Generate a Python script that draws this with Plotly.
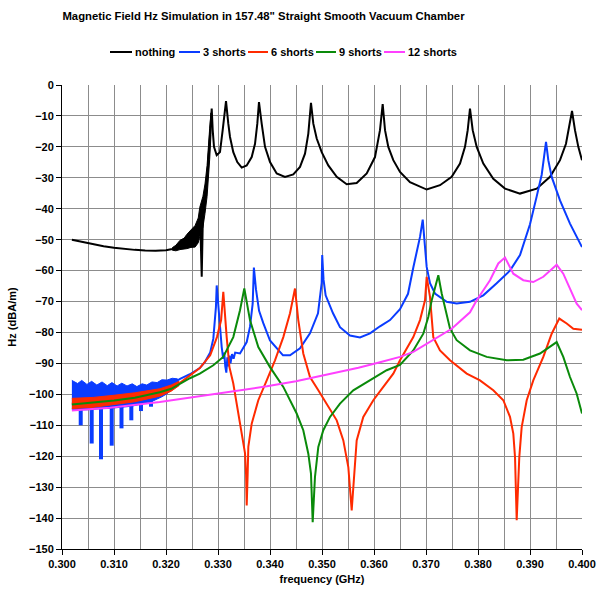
import plotly.graph_objects as go

# ---------------- data ----------------
series_names = ["nothing", "3 shorts", "6 shorts", "9 shorts", "12 shorts"]

freq_nothing = [0.3019, 0.3040, 0.3060, 0.3080, 0.3100, 0.3120, 0.3140, 0.3160, 0.3180, 0.3200,
                0.3212, 0.3225, 0.3240, 0.3252, 0.3262, 0.3266, 0.32687, 0.3271, 0.3276, 0.3280,
                0.3284, 0.32879, 0.32898, 0.32923, 0.32975, 0.33038, 0.33090, 0.33121, 0.33154,
                0.33198, 0.33231, 0.33294, 0.33371, 0.33456, 0.33552, 0.33648, 0.33712, 0.33756, 0.33788,
                0.33840, 0.33904, 0.34000, 0.34129, 0.34288, 0.34448, 0.34577, 0.34673, 0.34737, 0.34788,
                0.34833, 0.34898, 0.34994, 0.35121, 0.35283, 0.35475, 0.35667, 0.35860, 0.36019, 0.36115, 0.36167,
                0.36212, 0.36275, 0.36371, 0.36500, 0.36692, 0.37013, 0.37269, 0.37494, 0.37654, 0.37750, 0.37802, 0.37846,
                0.37898, 0.37975, 0.38102, 0.38294, 0.38519, 0.38808, 0.39129, 0.39385, 0.39577, 0.39692, 0.39756, 0.39808,
                0.39865, 0.39929, 0.4000]
hz_nothing = [-50.0, -50.8, -51.5, -52.1, -52.6, -53.0, -53.3, -53.5, -53.6, -53.4,
              -53.0, -52.0, -50.8, -49.5, -47.0, -45.0, -62.0, -42.0, -36.0, -28.0,
              -18.0, -7.6, -14.6, -20.0, -22.7, -21.7, -14.6, -9.2, -5.2,
              -12.5, -16.8, -21.7, -24.9, -26.7, -26.0, -23.3, -19.0, -12.5, -5.5,
              -12.5, -20.0, -24.9, -28.6, -29.7, -28.9, -26.5, -22.2, -15.7, -5.8,
              -12.5, -17.3, -21.7, -26.0, -29.7, -32.1, -31.7, -28.6, -23.3, -14.6, -6.2,
              -14.6, -20.0, -24.3, -28.1, -31.4, -33.8, -32.4, -29.7, -25.4, -20.0, -14.6, -7.6,
              -14.6, -20.0, -25.4, -30.3, -33.5, -35.1, -33.5, -29.7, -24.3, -19.0, -13.6, -8.4,
              -14.6, -20.0, -24.3]
# noisy band of the "nothing" series just below cutoff
band_nothing_f = [0.3212, 0.3219, 0.3227, 0.3235, 0.3240, 0.3248, 0.3256, 0.3262, 0.3265, 0.3271,
                  0.3275, 0.3279, 0.3281, 0.3284, 0.32865]
band_nothing_top = [-52.6, -51.8, -50.2, -49.5, -48.3, -47.0, -45.4, -43.0, -39.5, -36.0,
                    -32.0, -26.0, -20.0, -14.0, -9.0]
band_nothing_bot = [-53.4, -53.6, -53.2, -53.0, -52.9, -52.5, -52.4, -51.0, -49.0, -46.0,
                    -41.5, -36.0, -31.0, -24.0, -16.0]

freq_3 = [0.3020, 0.3100, 0.3150, 0.3180, 0.3200, 0.3215, 0.3227, 0.3246, 0.3265, 0.3275,
          0.3285, 0.3291, 0.3294, 0.3296, 0.32975, 0.3300, 0.33025, 0.33071, 0.3310, 0.3312,
          0.3314, 0.3316, 0.3318, 0.3320, 0.3322, 0.3324, 0.3327, 0.3330, 0.3333, 0.33423,
          0.33552, 0.33615, 0.33667, 0.3369, 0.3373, 0.3379, 0.33871, 0.3400, 0.34250, 0.34385,
          0.34577, 0.34769, 0.34923, 0.34994, 0.35004, 0.3503, 0.3507, 0.35212, 0.35346, 0.35538,
          0.35731, 0.35923, 0.36115, 0.36308, 0.3650, 0.36654, 0.36756, 0.36885, 0.36937, 0.36967,
          0.37013, 0.37077, 0.37173, 0.37398, 0.37590, 0.37846, 0.38102, 0.38359, 0.38615, 0.38808,
          0.3900, 0.39129, 0.39225, 0.39308, 0.39352, 0.39417, 0.39577, 0.39769, 0.4000]
hz_3 = [-100.5, -100.5, -100.0, -99.0, -97.8, -96.3, -95.0, -93.5, -91.5, -89.5,
        -86.5, -82.0, -76.0, -71.8, -64.8, -70.0, -76.0, -84.7, -88.5, -86.5,
        -91.0, -93.0, -88.0, -91.0, -87.5, -90.0, -87.0, -88.5, -86.5, -86.8,
        -83.1, -78.2, -70.7, -59.0, -66.0, -73.0, -77.0, -82.6, -87.4, -87.4,
        -85.1, -80.3, -73.8, -64.0, -55.0, -63.0, -68.0, -73.8, -78.3, -81.0,
        -81.6, -80.3, -78.0, -76.0, -72.5, -67.5, -59.0, -49.1, -43.5, -50.2,
        -58.8, -64.1, -67.4, -70.1, -70.6, -70.1, -68.0, -64.1, -60.0, -55.0,
        -45.0, -36.0, -29.0, -18.4, -24.3, -29.7, -37.3, -44.8, -52.4]
band_3_f = [0.3019, 0.3030, 0.3038, 0.3048, 0.3057, 0.3067, 0.3077, 0.3087, 0.3096, 0.3106, 0.3115,
            0.3125, 0.3135, 0.3144, 0.3154, 0.3163, 0.3173, 0.3183, 0.3192, 0.3202, 0.3212, 0.3222]
band_3_top = [-95.5, -96.5, -95.5, -96.8, -95.8, -97.0, -96.0, -97.2, -96.2, -97.3, -96.4,
              -97.3, -96.6, -97.5, -96.6, -97.0, -96.0, -96.2, -95.3, -95.4, -94.8, -95.0]
band_3_bot = [-104.8, -105.2, -105.0, -105.0, -104.8, -104.8, -104.6, -104.6, -104.4, -104.3, -104.2,
              -104.0, -103.8, -103.5, -103.2, -102.8, -102.3, -101.6, -100.8, -99.8, -98.5, -97.0]
spike_3_f = [0.3036, 0.30571, 0.3075, 0.30956, 0.31144, 0.31333, 0.31519, 0.31712]
spike_3_base = [-104.0, -104.0, -104.0, -104.0, -104.0, -103.5, -102.5, -101.5]
spike_3_tip = [-110.0, -115.9, -121.0, -116.6, -111.0, -108.4, -105.4, -104.0]

freq_6 = [0.3019, 0.3060, 0.3100, 0.3140, 0.3188, 0.3210, 0.3227, 0.3246, 0.3265, 0.3285,
          0.3298, 0.3306, 0.33102, 0.33167, 0.3322, 0.33294, 0.3339, 0.3346, 0.3352, 0.3354,
          0.33552, 0.3357, 0.33583, 0.33648, 0.33775, 0.33937, 0.34096, 0.34256, 0.34385, 0.34481,
          0.34544, 0.3464, 0.34769, 0.34929, 0.3509, 0.35283, 0.3541, 0.35506, 0.35571, 0.35635,
          0.35667, 0.35794, 0.35987, 0.36179, 0.36371, 0.3650, 0.36756, 0.36885, 0.36981, 0.37013,
          0.37077, 0.3714, 0.37269, 0.37462, 0.37783, 0.38038, 0.38294, 0.38487, 0.38615, 0.38679,
          0.38712, 0.38744, 0.38794, 0.3884, 0.38937, 0.39063, 0.39256, 0.39417, 0.39563, 0.39706,
          0.39833, 0.4000]
hz_6 = [-103.0, -102.6, -101.9, -101.0, -99.4, -98.0, -96.3, -94.0, -91.5, -87.4,
        -81.5, -76.0, -66.9, -81.5, -91.2, -96.5, -106.2, -112.7, -119.1, -126.0,
        -135.9, -126.0, -117.0, -109.5, -101.9, -95.5, -89.0, -81.5, -73.8, -65.8,
        -76.0, -86.8, -94.4, -98.7, -103.0, -108.4, -114.9, -123.5, -137.5, -123.5,
        -114.9, -107.3, -101.9, -97.6, -93.3, -89.0, -81.5, -76.0, -69.6, -62.0,
        -68.5, -81.5, -85.8, -89.0, -93.3, -95.5, -98.7, -101.9, -107.3, -112.7,
        -120.3, -140.7, -120.3, -110.6, -101.9, -95.5, -87.9, -80.4, -75.5, -77.1,
        -78.8, -79.1]
band_6_f = [0.3019, 0.3060, 0.3100, 0.3140, 0.3188, 0.3210, 0.3225]
band_6_top = [-101.3, -101.0, -100.3, -99.5, -98.2, -97.0, -95.8]
band_6_bot = [-104.6, -104.2, -103.4, -102.4, -100.6, -99.0, -97.2]

freq_9 = [0.3019, 0.3060, 0.3100, 0.3140, 0.3188, 0.3210, 0.3227, 0.3246, 0.3265, 0.3291,
          0.3310, 0.33294, 0.33423, 0.33506, 0.33615, 0.33775, 0.3400, 0.34256, 0.34513, 0.3464,
          0.34737, 0.34788, 0.34821, 0.34865, 0.34929, 0.35025, 0.35154, 0.35346, 0.35602, 0.35923,
          0.36244, 0.3650, 0.36756, 0.36948, 0.37044, 0.3711, 0.37237, 0.37302, 0.37429, 0.37462,
          0.3759, 0.37846, 0.38167, 0.38552, 0.38871, 0.39192, 0.39513, 0.3964, 0.39769, 0.39898, 0.4000]
hz_9 = [-103.3, -102.7, -102.0, -101.1, -99.3, -98.2, -96.5, -94.8, -93.3, -90.6,
        -87.9, -81.5, -72.8, -65.8, -76.0, -84.7, -91.2, -97.6, -106.2, -111.6,
        -119.2, -125.6, -141.3, -126.7, -117.0, -111.6, -107.3, -103.0, -98.7, -95.5,
        -92.2, -90.5, -85.8, -80.4, -75.0, -69.6, -61.5, -67.4, -76.0, -78.8,
        -82.5, -85.8, -87.9, -89.0, -88.8, -86.8, -83.1, -87.9, -94.4, -99.8, -106.2]

freq_12 = [0.3019, 0.3092, 0.3188, 0.3265, 0.3300, 0.3394, 0.3450, 0.35217, 0.3570, 0.36115,
           0.3650, 0.36756, 0.3714, 0.37494, 0.37846, 0.37975, 0.38231, 0.3839, 0.38519, 0.38679,
           0.38871, 0.39063, 0.39256, 0.39417, 0.39513, 0.3964, 0.39769, 0.39898, 0.4000]
hz_12 = [-105.2, -104.3, -102.5, -100.6, -99.9, -97.4, -95.8, -93.3, -91.4, -89.6,
         -87.9, -86.3, -82.5, -78.8, -73.5, -69.6, -63.1, -57.7, -55.8, -61.0,
         -63.1, -63.7, -62.0, -59.4, -58.1, -61.0, -65.8, -70.7, -72.8]

x_tick_vals = [0.300, 0.310, 0.320, 0.330, 0.340, 0.350, 0.360, 0.370, 0.380, 0.390, 0.400]
x_tick_text = ["0.300", "0.310", "0.320", "0.330", "0.340", "0.350", "0.360", "0.370", "0.380", "0.390", "0.400"]
y_tick_vals = [0, -10, -20, -30, -40, -50, -60, -70, -80, -90, -100, -110, -120, -130, -140, -150]

# ---------------- styling ----------------
colors = ["#000000", "#0a3cff", "#ff2a00", "#0a8a0a", "#ff40ff"]
FONT = "Liberation Sans, Arial, sans-serif"

fig = go.Figure()


def add_band(fx, top, bot, color):
    fig.add_trace(go.Scatter(x=fx + fx[::-1], y=top + bot[::-1], mode="lines", fill="toself",
                             fillcolor=color, line=dict(color=color, width=1),
                             showlegend=False, hoverinfo="skip"))


def add_line(fx, hz, color, name):
    fig.add_trace(go.Scatter(x=fx, y=hz, mode="lines", name=name,
                             line=dict(color=color, width=2), showlegend=False))


# nothing
add_band(band_nothing_f, band_nothing_top, band_nothing_bot, colors[0])
add_line(freq_nothing, hz_nothing, colors[0], series_names[0])
# 3 shorts
add_band(band_3_f, band_3_top, band_3_bot, colors[1])
sx, sy = [], []
for f, b, t in zip(spike_3_f, spike_3_base, spike_3_tip):
    sx += [f, f, None]
    sy += [b, t, None]
fig.add_trace(go.Scatter(x=sx, y=sy, mode="lines", line=dict(color=colors[1], width=4),
                         showlegend=False, hoverinfo="skip"))
add_line(freq_3, hz_3, colors[1], series_names[1])
# 6 shorts
add_band(band_6_f, band_6_top, band_6_bot, colors[2])
add_line(freq_6, hz_6, colors[2], series_names[2])
# 9 shorts
add_line(freq_9, hz_9, colors[3], series_names[3])
# 12 shorts
add_line(freq_12, hz_12, colors[4], series_names[4])

# manual legend (line sample + label) above the plot
leg_line_x = [(110, 132), (179, 200), (248, 268), (316, 336), (384, 405)]
leg_text_x = [133, 201, 269, 337, 406]
L, W = 62, 520
leg_y = (549 - 52) / 464
for i in range(5):
    x0, x1 = leg_line_x[i]
    fig.add_shape(type="line", xref="paper", yref="paper",
                  x0=(x0 - L) / W, x1=(x1 - L) / W, y0=leg_y, y1=leg_y,
                  line=dict(color=colors[i], width=2))
    fig.add_annotation(xref="paper", yref="paper", x=(leg_text_x[i] - L) / W, y=leg_y,
                       text=series_names[i], showarrow=False, xanchor="left", yanchor="middle",
                       font=dict(family=FONT, size=11, color="black", weight="bold"))

grid_c = "#8c8c8c"
fig.update_layout(
    template="none",
    width=597, height=596,
    margin=dict(l=62, r=15, t=85, b=47, autoexpand=False),
    paper_bgcolor="white", plot_bgcolor="white",
    font=dict(family=FONT, size=11, color="black", weight="bold"),
    title=dict(text='Magnetic Field Hz Simulation in 157.48" Straight Smooth Vacuum Chamber',
               x=263.5 / 597, xref="container", xanchor="center",
               y=1 - 16 / 596, yref="container", yanchor="middle",
               font=dict(family=FONT, size=11.3, color="black", weight="bold")),
    showlegend=False,
    xaxis=dict(range=[0.3, 0.4], tickvals=x_tick_vals, ticktext=x_tick_text, automargin=False,
               showgrid=True, gridcolor=grid_c, gridwidth=1,
               minor=dict(dtick=0.005, tick0=0.3, showgrid=True, gridcolor=grid_c, gridwidth=1),
               showline=True, linecolor="black", linewidth=1,
               ticks="outside", ticklen=5, tickcolor="black", zeroline=False,
               tickfont=dict(family=FONT, size=11, color="black", weight="bold"),
               title=dict(text="frequency (GHz)", standoff=6,
                          font=dict(family=FONT, size=11, color="black", weight="bold"))),
    yaxis=dict(range=[-150, 0], tickvals=y_tick_vals, automargin=False,
               showgrid=True, gridcolor=grid_c, gridwidth=1,
               showline=True, linecolor="black", linewidth=1,
               ticks="outside", ticklen=5, tickcolor="black", zeroline=False,
               tickfont=dict(family=FONT, size=11, color="black", weight="bold"),
               title=dict(text="Hz (dBA/m)", standoff=10,
                          font=dict(family=FONT, size=11, color="black", weight="bold"))),
)

fig.write_html("out.html")
